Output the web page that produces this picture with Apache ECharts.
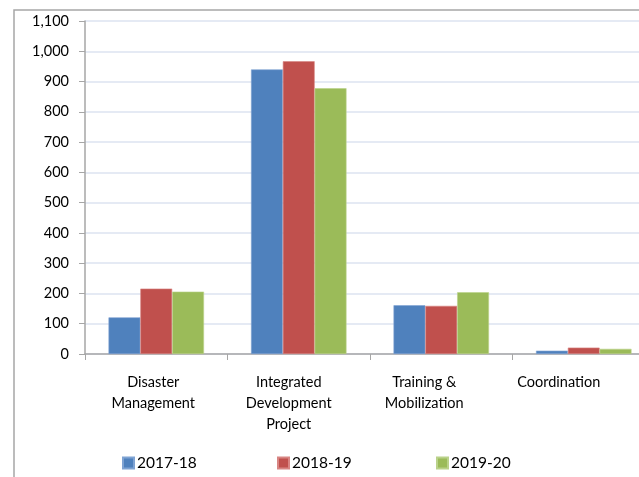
<!DOCTYPE html>
<html>
<head>
<meta charset="utf-8">
<script src="https://cdn.jsdelivr.net/npm/echarts@6/dist/echarts.min.js"></script>
<style>
  html, body { margin: 0; padding: 0; background: #fff; }
  #main { width: 639px; height: 477px; }
</style>
</head>
<body>
<div id="main"></div>
<script>
var categories = ['Disaster\nManagement', 'Integrated\nDevelopment\nProject', 'Training &\nMobilization', 'Coordination'];
var seriesNames = ['2017-18', '2018-19', '2019-20'];
var v2017 = [121, 940, 161, 11];
var v2018 = [216, 967, 159, 21];
var v2019 = [206, 878, 204, 17];
var colors = ['#4F81BD', '#C0504D', '#9BBB59'];
var borders = ['#7FA3D3', '#D88583', '#BAD28A'];

// Excel pushes the labels a bit left of the category centres
var labelShift = [3, 10, 17, 25];

var chart = echarts.init(document.getElementById('main'));
var font = 'Lato, "Open Sans", sans-serif';

var values = [v2017, v2018, v2019];
var series = [];
for (var i = 0; i < values.length; i++) {
  series.push({
    name: seriesNames[i],
    type: 'bar',
    data: values[i],
    barGap: '0%',
    barCategoryGap: '33%',
    itemStyle: { color: colors[i], borderColor: borders[i], borderWidth: 0.6 }
  });
}

var legends = [];
var legendLeft = [122, 277, 436];
for (var j = 0; j < seriesNames.length; j++) {
  legends.push({
    data: [seriesNames[j]],
    left: legendLeft[j],
    top: 455,
    padding: 0,
    icon: 'rect',
    itemWidth: 11,
    itemHeight: 11,
    itemGap: 0,
    textStyle: { fontFamily: font, fontSize: 15.5, color: '#000', padding: [0, 0, 0, -2] }
  });
}

var xData = categories.map(function (c, k) {
  return { value: c, textStyle: { padding: [0, labelShift[k] * 2, 0, 0] } };
});

var option = {
  animation: false,
  graphic: [{
    type: 'rect',
    shape: { x: 14, y: 10, width: 700, height: 520 },
    style: { fill: 'none', stroke: '#A6A6A6', lineWidth: 1.5 },
    silent: true
  }],
  legend: legends,
  grid: { left: 85, width: 570, top: 21, height: 333, containLabel: false, outerBoundsMode: 'none' },
  xAxis: {
    type: 'category',
    data: xData,
    axisLine: { lineStyle: { color: '#A6A6A6', width: 1.5 } },
    axisTick: { show: true, length: 6, lineStyle: { color: '#A6A6A6' } },
    axisLabel: { fontFamily: font, fontSize: 14.5, color: '#000', lineHeight: 21, margin: 18, interval: 0 }
  },
  yAxis: {
    type: 'value',
    min: 0,
    max: 1100,
    interval: 100,
    axisLine: { show: true, lineStyle: { color: '#A6A6A6', width: 1.5 } },
    axisTick: { show: true, length: 6, lineStyle: { color: '#A6A6A6' } },
    axisLabel: {
      fontFamily: font, fontSize: 14.5, color: '#000', margin: 16,
      formatter: function (v) { return v.toLocaleString('en-US'); }
    },
    splitLine: { lineStyle: { color: '#DCE3F0', width: 1.5 } }
  },
  series: series
};

chart.setOption(option);
</script>
</body>
</html>
